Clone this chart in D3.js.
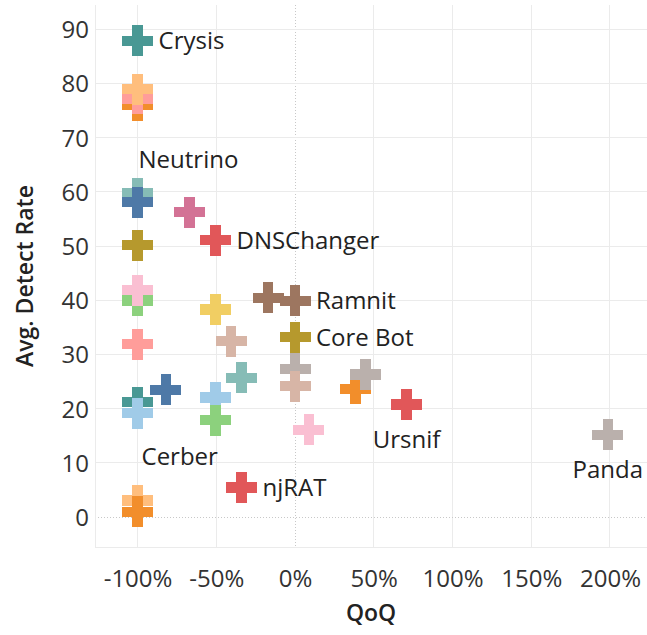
<!DOCTYPE html>
<html><head><meta charset="utf-8">
<script src="https://cdn.jsdelivr.net/npm/d3@7"></script>
<style>html,body{margin:0;padding:0;background:#fff;}svg{display:block;font-family:"Open Sans",sans-serif;}</style>
</head><body>
<svg id="chart" width="647" height="635"></svg>
<script>
// ---- data (draw order) ----
const qoq   = [-100,-100,-100,-100,-100,-100,-67,-50.5,-100,-100,-100,-100,-50.5,-40.6,-17,0,0,0,0,-34,-50.5,-50.5,8.7,38.4,44.8,70.8,198.6,-100,-100,-82,-34,-100,-100];
const rate  = [87.9,76.0,77.2,79.0,59.8,58.1,56.3,51.1,50.2,40.0,41.9,31.9,38.3,32.5,40.5,39.9,33.2,27.4,24.2,25.7,22.1,17.9,16.1,23.7,26.3,20.8,15.2,21.2,19.2,23.5,5.5,3.1,1.0];
const colors= ["#499894","#F28E2B","#FF9D9A","#FFBE7D","#86BCB6","#4E79A7","#D37295","#E15759","#B6992D","#8CD17D","#FABFD2","#FF9D9A","#F1CE63","#D7B5A6","#9D7660","#9D7660","#B6992D","#BAB0AC","#D7B5A6","#86BCB6","#A0CBE8","#8CD17D","#FABFD2","#F28E2B","#BAB0AC","#E15759","#BAB0AC","#499894","#A0CBE8","#4E79A7","#E15759","#FFBE7D","#F28E2B"];
const labels= ["Crysis","","","","Neutrino","","","DNSChanger","","","","","","","","Ramnit","Core Bot","","","","","","","","","Ursnif","Panda","","Cerber","","njRAT","",""];
const xTicks = [-1,-0.5,0,0.5,1,1.5,2];
const yTicks = [0,10,20,30,40,50,60,70,80,90];

// ---- label placement styles ----
const labelStyle = {
  right:      {dx: 21, dy: 0,   anchor: "start"},
  above:      {dx: 1,  dy: -33, anchor: "start"},
  below:      {dx: 0,  dy: 35,  anchor: "middle"},
  belowStart: {dx: 4,  dy: 43,  anchor: "start"}
};
const labelPlace = {Crysis:"right", Neutrino:"above", DNSChanger:"right", Ramnit:"right", "Core Bot":"right", Ursnif:"below", Panda:"below", Cerber:"belowStart", njRAT:"right"};

const svg = d3.select("#chart");
const M = {left:95, right:647, top:5, bottom:547};
const x = d3.scaleLinear().domain([-1.27, 2.235]).range([M.left, M.right]);
const y = d3.scaleLinear().domain([-5.5, 94.5]).range([M.bottom, M.top]);

const grid = svg.append("g");
grid.selectAll("line.v").data(xTicks).join("line")
  .attr("x1", d=>x(d)).attr("x2", d=>x(d)).attr("y1", M.top).attr("y2", M.bottom)
  .attr("stroke", d=> d===0 ? "#c8c8c8" : "#ebebeb").attr("stroke-width",1)
  .attr("stroke-dasharray", d=> d===0 ? "1,2" : null).attr("shape-rendering","crispEdges");
grid.selectAll("line.h").data(yTicks).join("line")
  .attr("x1", M.left).attr("x2", M.right).attr("y1", d=>y(d)).attr("y2", d=>y(d))
  .attr("stroke", d=> d===0 ? "#c8c8c8" : "#ebebeb").attr("stroke-width",1)
  .attr("stroke-dasharray", d=> d===0 ? "1,2" : null).attr("shape-rendering","crispEdges");
grid.append("line").attr("x1",M.left).attr("x2",M.left).attr("y1",M.top).attr("y2",M.bottom).attr("stroke","#ebebeb").attr("shape-rendering","crispEdges");
grid.append("line").attr("x1",M.left).attr("x2",M.right).attr("y1",M.bottom).attr("y2",M.bottom).attr("stroke","#ebebeb").attr("shape-rendering","crispEdges");

const pct = d3.format(".0%");
const xAxis = d3.axisBottom(x).tickValues(xTicks).tickFormat(d => pct(d).replace("\u2212","-")).tickSize(0).tickPadding(0);
const gx = svg.append("g").attr("transform",`translate(0,${M.bottom})`).call(xAxis);
gx.select(".domain").remove();
gx.selectAll("text").attr("y", 40).attr("dy", 0).attr("font-size", 24).attr("fill","#333").style("font-family","Open Sans");

const yAxis = d3.axisLeft(y).tickValues(yTicks).tickSize(0).tickPadding(0);
const gy = svg.append("g").attr("transform",`translate(${M.left-6},0)`).call(yAxis);
gy.select(".domain").remove();
gy.selectAll("text").attr("x", 0).attr("dy","0.35em").attr("font-size", 24).attr("fill","#333").style("font-family","Open Sans");

svg.append("text").attr("x",(M.left+M.right)/2).attr("y",621).attr("text-anchor","middle")
  .attr("font-size",23).attr("font-weight",600).attr("fill","#222").text("QoQ");
svg.append("text").attr("transform",`translate(33,${(M.top+M.bottom)/2}) rotate(-90)`).attr("text-anchor","middle")
  .attr("font-size",23).attr("font-weight",600).attr("fill","#222").text("Avg. Detect Rate");

const data = qoq.map((q,i)=>({q:q/100, r:rate[i], c:colors[i], l:labels[i]}));
const cross = d3.symbol().type(d3.symbolCross).size(534);
svg.append("g").selectAll("path").data(data).join("path")
  .attr("transform", d=>`translate(${x(d.q)},${y(d.r)})`)
  .attr("d", cross).attr("fill", d=>d.c).attr("shape-rendering","crispEdges");

svg.append("g").selectAll("text").data(data.filter(d=>d.l)).join("text")
  .each(function(d){
    const s = labelStyle[labelPlace[d.l]];
    d3.select(this).attr("x", x(d.q)+s.dx).attr("y", y(d.r)+s.dy).attr("text-anchor", s.anchor);
  })
  .attr("dy","0.35em").attr("font-size",24).attr("fill","#222").text(d=>d.l);
</script>
</body></html>
